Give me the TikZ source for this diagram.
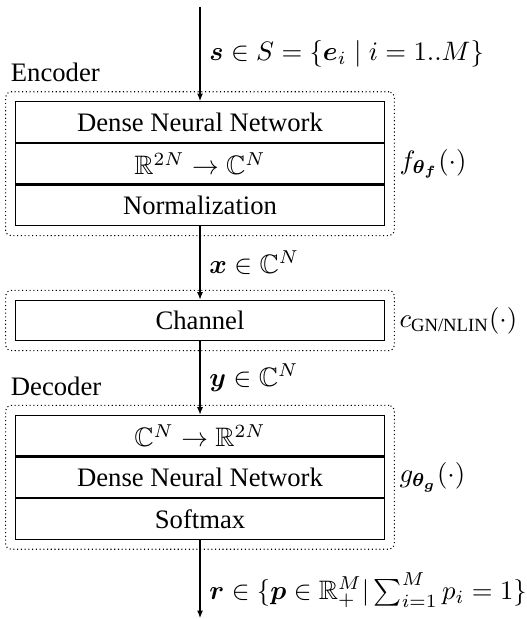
\documentclass[tikz,border=0pt]{standalone}
\usepackage{amsmath}
\usepackage{amssymb}
\usepackage[no-math]{fontspec}
\setmainfont{Liberation Serif}
\usetikzlibrary{positioning,fit,arrows.meta}
\tikzset{
	blockrow/.style={draw, minimum width=138.4pt, minimum height=15.25pt, inner sep=0pt},
	groupbox/.style={draw, densely dotted, rounded corners=2pt, inner sep=3.5pt},
	flow/.style={-{Latex[length=2.8pt,width=2.2pt]}},
	funclabel/.style={anchor=west, inner sep=1.5pt},
	blocklabel/.style={anchor=south west, inner xsep=2pt, inner ysep=3.3pt}
}

\begin{document}
\begin{tikzpicture}

	\useasboundingbox (-75pt,0) rectangle (122.6pt,-232.1pt);

	\coordinate (in) at (0,-2.6pt);
	\coordinate (out) at (0,-231.75pt);

	\node[blockrow, anchor=north] (enc1) at (0,-37.9pt) {Dense Neural Network};
	\node[blockrow, below=0pt of enc1] (enc2) {$\mathbb{R}^{2N} \to \mathbb{C}^N$};
	\node[blockrow, below=0pt of enc2] (enc3) {Normalization};

	\node[blockrow, below=27.5pt of enc3] (chan) {Channel};

	\node[blockrow, below=27.5pt of chan] (dec1) {$\mathbb{C}^N \to \mathbb{R}^{2N}$};
	\node[blockrow, below=0pt of dec1] (dec2) {Dense Neural Network};
	\node[blockrow, below=0pt of dec2] (dec3) {Softmax};

	\node[groupbox, fit=(enc1)(enc3)] (enc) {};
	\node[groupbox, fit=(chan)] (chanbox) {};
	\node[groupbox, fit=(dec1)(dec3)] (dec) {};

	\node[blocklabel] (enctitle) at (enc.north west) {Encoder};
	\node[blocklabel] (dectitle) at (dec.north west) {Decoder};

	\node[funclabel] (f) at (enc.east) {$f_{\boldsymbol{\theta_f}}(\cdot)$};
	\node[funclabel] (c) at (chanbox.east) {$c_{\text{GN/NLIN}}(\cdot)$};
	\node[funclabel] (g) at (dec.east) {$g_{\boldsymbol{\theta_g}}(\cdot)$};

	\draw[flow] (in) -- node[right, midway] {$\boldsymbol{s} \in S = \{\boldsymbol{e}_i \mid i = 1..M\}$} (enc1);
	\draw[flow] (enc3) -- node[right, midway] {$\boldsymbol{x} \in \mathbb{C}^N$} (chan);
	\draw[flow] (chan) -- node[right, midway] {$\boldsymbol{y} \in \mathbb{C}^N$} (dec1);
	\draw[flow] (dec3) -- node[right, pos=0.65] {$\boldsymbol{r} \in \{\boldsymbol{p} \in \mathbb{R}^M_+ | \sum_{i=1}^M p_i = 1\}$} (out);

\end{tikzpicture}
\end{document}
